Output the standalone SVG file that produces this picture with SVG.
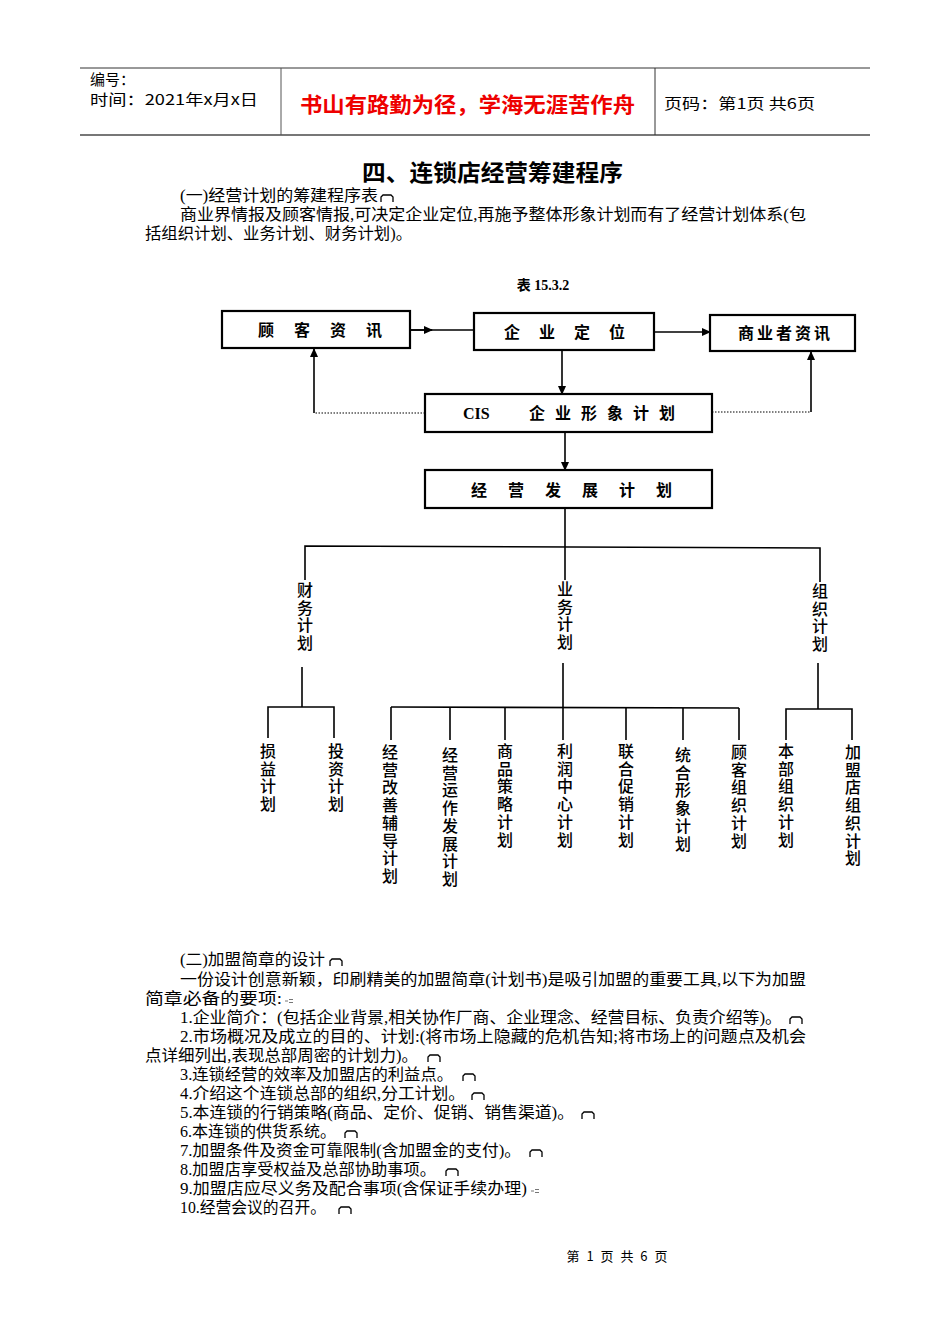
<svg xmlns="http://www.w3.org/2000/svg" width="950" height="1344" viewBox="0 0 950 1344">
<style>
.hd{font-family:"Noto Sans CJK SC",sans-serif;font-size:15px;fill:#000}
.red{font-family:"Noto Sans CJK SC",sans-serif;font-size:21px;fill:#e00;font-weight:bold}
.ttl{font-family:"Noto Sans CJK SC",sans-serif;font-size:23px;font-weight:bold;fill:#000}
.bd{font-family:"Liberation Serif","Noto Sans CJK SC",serif;font-size:16px;fill:#000}
.bx{font-family:"Noto Sans CJK SC",sans-serif;font-size:16px;font-weight:bold;fill:#000}
.vt{font-family:"Noto Sans CJK SC",sans-serif;font-size:16px;font-weight:500;fill:#000;writing-mode:vertical-rl;letter-spacing:1.7px}
.box{fill:#fff;stroke:#000;stroke-width:2.2}
.ln{fill:none;stroke:#000;stroke-width:1.6}
.dot{fill:none;stroke:#000;stroke-width:1.2;stroke-dasharray:1.5 1.5}
.pm{fill:none;stroke:#000;stroke-width:1.3}
</style>
<defs>
<marker id="ar" markerWidth="9" markerHeight="8" refX="8" refY="4" orient="auto" markerUnits="userSpaceOnUse">
<path d="M0,0 L9,4 L0,8 Z" fill="#000"/>
</marker>
</defs>
<rect width="950" height="1344" fill="#fff"/>

<g id="header">
<line x1="80" y1="68" x2="870" y2="68" stroke="#333" stroke-width="1"/>
<line x1="80" y1="135" x2="870" y2="135" stroke="#777" stroke-width="2"/>
<line x1="281" y1="68" x2="281" y2="135" stroke="#555" stroke-width="1"/>
<line x1="655" y1="68" x2="655" y2="135" stroke="#333" stroke-width="1"/>
<text class="hd" x="90" y="85">编号：</text>
<text class="hd" x="90" y="105" textLength="168" lengthAdjust="spacingAndGlyphs">时间：2021年x月x日</text>
<text class="red" x="300" y="112" textLength="335" lengthAdjust="spacingAndGlyphs">书山有路勤为径，学海无涯苦作舟</text>
<text class="hd" x="664" y="109" textLength="151" lengthAdjust="spacingAndGlyphs">页码：第1页 共6页</text>
</g>

<g id="intro">
<text class="ttl" x="362" y="181" textLength="261" lengthAdjust="spacingAndGlyphs">四、连锁店经营筹建程序</text>
<text class="bd" x="180" y="201" textLength="198" lengthAdjust="spacingAndGlyphs">(一)经营计划的筹建程序表</text>
<path class="pm" d="M381,202 v-5 l2,-2 h8 l2,2 v5"/>
<text class="bd" x="180" y="220" textLength="626" lengthAdjust="spacingAndGlyphs">商业界情报及顾客情报,可决定企业定位,再施予整体形象计划而有了经营计划体系(包</text>
<text class="bd" x="145" y="239" textLength="267" lengthAdjust="spacingAndGlyphs">括组织计划、业务计划、财务计划)。</text>
<text x="543" y="290" text-anchor="middle" style="font-family:'Liberation Serif','Noto Sans CJK SC',serif;font-size:14px;font-weight:bold">表 15.3.2</text>
</g>

<g id="connectors">
<line class="ln" x1="410" y1="330" x2="474" y2="330"/>
<line class="ln" x1="410" y1="330" x2="432" y2="330" marker-end="url(#ar)"/>
<line class="ln" x1="654" y1="332" x2="710" y2="332" marker-end="url(#ar)"/>
<line class="ln" x1="562" y1="350" x2="562" y2="394" marker-end="url(#ar)"/>
<polyline class="dot" points="425,413 314,413"/>
<line class="ln" x1="314" y1="413" x2="314" y2="349" marker-end="url(#ar)"/>
<polyline class="dot" points="712,412 811,412"/>
<line class="ln" x1="811" y1="412" x2="811" y2="352" marker-end="url(#ar)"/>
<line class="ln" x1="565" y1="432" x2="565" y2="470" marker-end="url(#ar)"/>
<line class="ln" x1="565" y1="508" x2="565" y2="580"/>
<polyline class="ln" points="305,580 305,546 820,548 820,582"/>
<line class="ln" x1="302" y1="667" x2="302" y2="707"/>
<polyline class="ln" points="268,738 268,707 334,707 334,738"/>
<line class="ln" x1="563" y1="663" x2="563" y2="740"/>
<line class="ln" x1="391" y1="707" x2="739" y2="708"/>
<line class="ln" x1="391" y1="707" x2="391" y2="740"/>
<line class="ln" x1="450" y1="707" x2="450" y2="740"/>
<line class="ln" x1="505" y1="707" x2="505" y2="740"/>
<line class="ln" x1="626" y1="708" x2="626" y2="740"/>
<line class="ln" x1="683" y1="708" x2="683" y2="740"/>
<line class="ln" x1="739" y1="708" x2="739" y2="740"/>
<line class="ln" x1="818" y1="663" x2="818" y2="709"/>
<polyline class="ln" points="786,740 786,709 852,709 852,740"/>
</g>

<g id="n-guke"><rect class="box" x="222" y="311" width="188" height="37"/><text class="bx" x="258" y="336" letter-spacing="20">顾客资讯</text></g>
<g id="n-dingwei"><rect class="box" x="474" y="313" width="180" height="37"/><text class="bx" x="504" y="338" letter-spacing="19">企业定位</text></g>
<g id="n-shangye"><rect class="box" x="710" y="315" width="145" height="36"/><text class="bx" x="738" y="339" letter-spacing="3">商业者资讯</text></g>
<g id="n-cis"><rect class="box" x="425" y="394" width="287" height="38"/><text class="bx" x="463" y="419" style="font-family:'Liberation Serif',serif;font-size:16px">CIS</text><text class="bx" x="529" y="419" letter-spacing="10">企业形象计划</text></g>
<g id="n-fazhan"><rect class="box" x="425" y="470" width="287" height="38"/><text class="bx" x="471" y="496" letter-spacing="21">经营发展计划</text></g>

<g id="n-caiwu"><text class="vt" x="305" y="582">财务计划</text></g>
<g id="n-yewu"><text class="vt" x="565" y="581">业务计划</text></g>
<g id="n-zuzhi"><text class="vt" x="820" y="583">组织计划</text></g>

<g id="n-sunyi"><text class="vt" x="268" y="743">损益计划</text></g>
<g id="n-touzi"><text class="vt" x="336" y="743">投资计划</text></g>
<g id="n-gaishan"><text class="vt" x="390" y="744">经营改善辅导计划</text></g>
<g id="n-yunzuo"><text class="vt" x="450" y="747">经营运作发展计划</text></g>
<g id="n-shangpin"><text class="vt" x="505" y="743">商品策略计划</text></g>
<g id="n-lirun"><text class="vt" x="565" y="743">利润中心计划</text></g>
<g id="n-cuxiao"><text class="vt" x="626" y="743">联合促销计划</text></g>
<g id="n-xingxiang"><text class="vt" x="683" y="747">统合形象计划</text></g>
<g id="n-guketz"><text class="vt" x="739" y="744">顾客组织计划</text></g>
<g id="n-benbu"><text class="vt" x="786" y="743">本部组织计划</text></g>
<g id="n-jiamengdian"><text class="vt" x="853" y="744">加盟店组织计划</text></g>

<g id="body2">
<text class="bd" x="180" y="965" textLength="145" lengthAdjust="spacingAndGlyphs">(二)加盟简章的设计</text>
<path class="pm" d="M330,966 v-5 l2,-2 h8 l2,2 v5"/>
<text class="bd" x="180" y="985" textLength="626" lengthAdjust="spacingAndGlyphs">一份设计创意新颖，印刷精美的加盟简章(计划书)是吸引加盟的重要工具,以下为加盟</text>
<text class="bd" x="145" y="1004" textLength="137" lengthAdjust="spacingAndGlyphs">简章必备的要项:</text>
<path d="M285,1001 h3 M289,999.5 h4 M289,1002.5 h4" stroke="#666" stroke-width="0.9"/>
<text class="bd" x="180" y="1023" textLength="602" lengthAdjust="spacingAndGlyphs">1.企业简介：(包括企业背景,相关协作厂商、企业理念、经营目标、负责介绍等)。</text>
<path class="pm" d="M790,1024 v-5 l2,-2 h8 l2,2 v5"/>
<text class="bd" x="180" y="1042" textLength="626" lengthAdjust="spacingAndGlyphs">2.市场概况及成立的目的、计划:(将市场上隐藏的危机告知;将市场上的问题点及机会</text>
<text class="bd" x="145" y="1061" textLength="273" lengthAdjust="spacingAndGlyphs">点详细列出,表现总部周密的计划力)。</text>
<path class="pm" d="M428,1062 v-5 l2,-2 h8 l2,2 v5"/>
<text class="bd" x="180" y="1080" textLength="273" lengthAdjust="spacingAndGlyphs">3.连锁经营的效率及加盟店的利益点。</text>
<path class="pm" d="M463,1081 v-5 l2,-2 h8 l2,2 v5"/>
<text class="bd" x="180" y="1099" textLength="285" lengthAdjust="spacingAndGlyphs">4.介绍这个连锁总部的组织,分工计划。</text>
<path class="pm" d="M472,1100 v-5 l2,-2 h8 l2,2 v5"/>
<text class="bd" x="180" y="1118" textLength="394" lengthAdjust="spacingAndGlyphs">5.本连锁的行销策略(商品、定价、促销、销售渠道)。</text>
<path class="pm" d="M582,1119 v-5 l2,-2 h8 l2,2 v5"/>
<text class="bd" x="180" y="1137" textLength="156" lengthAdjust="spacingAndGlyphs">6.本连锁的供货系统。</text>
<path class="pm" d="M345,1138 v-5 l2,-2 h8 l2,2 v5"/>
<text class="bd" x="180" y="1156" textLength="341" lengthAdjust="spacingAndGlyphs">7.加盟条件及资金可靠限制(含加盟金的支付)。</text>
<path class="pm" d="M530,1157 v-5 l2,-2 h8 l2,2 v5"/>
<text class="bd" x="180" y="1175" textLength="256" lengthAdjust="spacingAndGlyphs">8.加盟店享受权益及总部协助事项。</text>
<path class="pm" d="M446,1176 v-5 l2,-2 h8 l2,2 v5"/>
<text class="bd" x="180" y="1194" textLength="347" lengthAdjust="spacingAndGlyphs">9.加盟店应尽义务及配合事项(含保证手续办理)</text>
<path d="M531,1191 h3 M535,1189.5 h4 M535,1192.5 h4" stroke="#666" stroke-width="0.9"/>
<text class="bd" x="180" y="1213" textLength="146" lengthAdjust="spacingAndGlyphs">10.经营会议的召开。</text>
<path class="pm" d="M339,1214 v-5 l2,-2 h8 l2,2 v5"/>
</g>

<g id="footer">
<text x="617" y="1261" text-anchor="middle" style="font-family:'Noto Sans CJK SC',sans-serif;font-size:13px" word-spacing="4">第 1 页 共 6 页</text>
</g>
</svg>
